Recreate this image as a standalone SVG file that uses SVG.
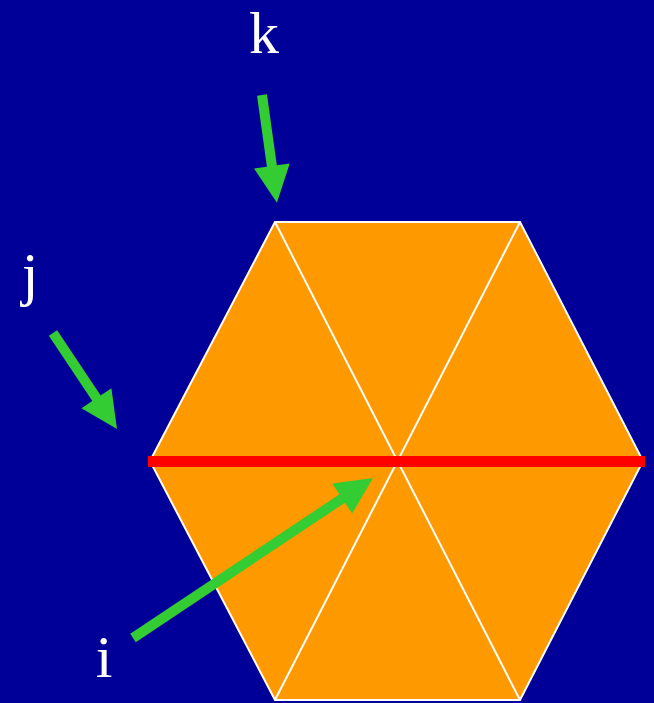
<svg xmlns="http://www.w3.org/2000/svg" width="654" height="703" viewBox="0 0 654 703">
<style>
.lbl{font-family:"Liberation Serif","Times New Roman",serif;font-size:60px;fill:#ffffff}
.tri{stroke:#ffffff;stroke-width:2;fill:none}
.arr{stroke:#33cc33;stroke-width:10;fill:none;marker-end:url(#ah)}
</style>
<defs>
<marker id="ah" markerUnits="userSpaceOnUse" viewBox="0 0 37 36" markerWidth="37" markerHeight="36" refX="1" refY="18" orient="auto" overflow="visible">
<path d="M0,0 L37,18 L0,36 z" fill="#33cc33"/>
</marker>
</defs>
<rect width="654" height="703" fill="#000099"/>
<g id="hexagon">
<polygon points="275,222 520,222 643,461 520,700 275,700 150,461" fill="#ff9900" stroke="#ffffff" stroke-width="2"/>
<line class="tri" x1="275" y1="222" x2="520" y2="700"/>
<line class="tri" x1="520" y1="222" x2="275" y2="700"/>
</g>
<g id="red-line">
<rect x="148" y="456" width="497" height="11" fill="#ff0000"/>
</g>
<g id="connectors">
<line class="arr" x1="262" y1="95" x2="272" y2="167"/>
<line class="arr" x1="53" y1="333" x2="97" y2="399"/>
<line class="arr" x1="133" y1="638" x2="343" y2="498"/>
</g>
<g id="label-k"><text class="lbl" x="264" y="53" text-anchor="middle">k</text></g>
<g id="label-j"><text class="lbl" x="30" y="294" text-anchor="middle">j</text></g>
<g id="label-i"><text class="lbl" x="104" y="677" text-anchor="middle">i</text></g>
</svg>
